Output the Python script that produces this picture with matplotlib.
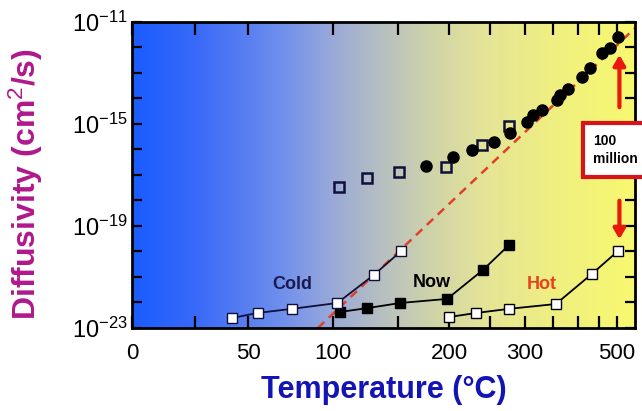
import numpy as np
import matplotlib
matplotlib.use("Agg")
import matplotlib.pyplot as plt
from matplotlib.colors import LinearSegmentedColormap
from matplotlib.patches import Rectangle

plt.rcParams["font.family"] = ["Liberation Sans", "DejaVu Sans"]
plt.rcParams["mathtext.fontset"] = "custom"
plt.rcParams["mathtext.rm"] = "Liberation Sans"
plt.rcParams["mathtext.it"] = "Liberation Sans:italic"
plt.rcParams["mathtext.bf"] = "Liberation Sans:bold"

# data: temperature in degC, log10 of diffusivity (cm^2/s)
meas_t = [176, 204, 226, 255, 278, 304, 314, 329, 357, 363, 379, 410, 428, 459, 480, 503]
meas_logd = [-16.65, -16.29, -16.02, -15.71, -15.35, -14.92, -14.65, -14.45, -14.06,
             -13.86, -13.63, -13.16, -12.80, -12.22, -12.02, -11.59]

open_t = [104, 125, 151, 197, 239, 276]
open_logd = [-17.47, -17.12, -16.88, -16.69, -15.82, -15.08]

cold_t = [42, 55, 74, 103, 130, 153]
cold_logd = [-22.61, -22.41, -22.25, -22.02, -20.92, -19.98]

now_t = [105, 125, 152, 198, 240, 276]
now_logd = [-22.37, -22.22, -22.02, -21.86, -20.73, -19.75]

hot_t = [200, 232, 276, 355, 433, 503]
hot_logd = [-22.57, -22.41, -22.25, -22.06, -20.88, -19.98]

fit_t = [90, 556]
fit_logd = [-23.0, -11.24]

tick_t = [0, 25, 50, 100, 150, 200, 250, 300, 350, 400, 450, 500]
tick_lbl = ["0", "", "50", "100", "", "200", "", "300", "", "", "", "500"]


def inv_k(t_c):
    # Arrhenius axis: -1000/T
    return -1000.0 / (np.asarray(t_c, dtype=float) + 273.15)


def d(logd):
    return 10.0 ** np.asarray(logd)


fig = plt.figure(figsize=(6.42, 4.11), dpi=100)
ax = fig.add_axes([0.2056, 0.202, 0.7834, 0.7445])

# blue -> yellow background
cmap = LinearSegmentedColormap.from_list("bg", [
    (0.0, "#1a5cff"),
    (0.13, "#3a6af8"),
    (0.30, "#7090ec"),
    (0.40, "#9aaad8"),
    (0.50, "#b8c0c0"),
    (0.60, "#d0d4a8"),
    (0.70, "#e4e498"),
    (0.85, "#f0f080"),
    (1.0, "#f8f870"),
])
grad = np.linspace(0, 1, 256).reshape(1, -1)
ax.imshow(grad, cmap=cmap, aspect="auto", extent=[0, 1, 0, 1],
          transform=ax.transAxes, zorder=0)

ax.set_yscale("log")

ax.plot(inv_k(fit_t), d(fit_logd), ls=(0, (3.5, 2.5)), color="#e0402a", lw=1.8, zorder=2)

ax.plot(inv_k(cold_t), d(cold_logd), color="#10103a", lw=1.3, marker="s", ms=6.5,
        mfc="white", mec="#10103a", mew=1.0, zorder=4)
ax.plot(inv_k(now_t), d(now_logd), color="black", lw=1.3, marker="s", ms=7.5,
        mfc="black", mec="black", zorder=3)
ax.plot(inv_k(hot_t), d(hot_logd), color="black", lw=1.3, marker="s", ms=6.5,
        mfc="white", mec="black", mew=1.0, zorder=4)

ax.plot(inv_k(open_t), d(open_logd), ls="none", marker="s", ms=6.5,
        mfc="none", mec="#10103a", mew=1.8, zorder=4)
ax.plot(inv_k(meas_t), d(meas_logd), ls="none", marker="o", ms=8,
        mfc="black", mec="black", zorder=5)

ax.text(inv_k(74), d(-21.31), "Cold", color="#1a1a50", fontsize=13,
        fontweight="bold", ha="center", va="center", zorder=6)
ax.text(inv_k(182), d(-21.2), "Now", color="black", fontsize=13,
        fontweight="bold", ha="center", va="center", zorder=6)
ax.text(inv_k(329), d(-21.31), "Hot", color="#e8401c", fontsize=13,
        fontweight="bold", ha="center", va="center", zorder=6)

# "100 million" arrows and box
ax.annotate("", xy=(inv_k(507), d(-12.18)), xytext=(inv_k(507), d(-14.45)),
            arrowprops=dict(arrowstyle="-|>,head_width=0.35,head_length=0.6",
                            color="#e8180c", lw=3), zorder=6)
ax.annotate("", xy=(inv_k(507), d(-19.63)), xytext=(inv_k(507), d(-17.9)),
            arrowprops=dict(arrowstyle="-|>,head_width=0.35,head_length=0.6",
                            color="#e8180c", lw=3), zorder=6)
box = Rectangle((0.897, 0.493), 0.3, 0.177, transform=ax.transAxes,
                facecolor="white", edgecolor="#d8141a", lw=3, clip_on=False, zorder=7)
ax.add_patch(box)
ax.text(0.917, 0.582, "100\nmillion", transform=ax.transAxes, fontsize=10,
        fontweight="bold", ha="left", va="center", linespacing=1.3,
        clip_on=False, zorder=8)

ax.set_xlim(inv_k(0), inv_k(556))
ax.set_ylim(1e-23, 1e-11)
ax.set_xticks(inv_k(tick_t))
ax.set_xticklabels(tick_lbl)
ax.set_yticks([1e-23, 1e-19, 1e-15, 1e-11])
ax.set_yticklabels([r"$10^{-23}$", r"$10^{-19}$", r"$10^{-15}$", r"$10^{-11}$"])
ax.set_yticks([10.0 ** e for e in range(-22, -11) if e not in (-19, -15)], minor=True)
ax.tick_params(axis="x", which="both", direction="in", length=9, width=1.6,
               top=True, labelsize=16, pad=11)
ax.tick_params(axis="y", which="both", direction="in", length=7, width=1.6,
               right=True, labelsize=17, pad=3)
ax.tick_params(axis="y", which="minor", labelleft=False)
for sp in ax.spines.values():
    sp.set_linewidth(2)

ax.set_xlabel("Temperature (°C)", fontsize=22, fontweight="bold", color="#1414b4",
              labelpad=8)
ax.set_ylabel("Diffusivity (cm$^2$/s)", fontsize=23, fontweight="bold",
              color="#b0188c")
ax.yaxis.set_label_coords(-0.172, 0.47)

fig.savefig("out.png", dpi=100)
